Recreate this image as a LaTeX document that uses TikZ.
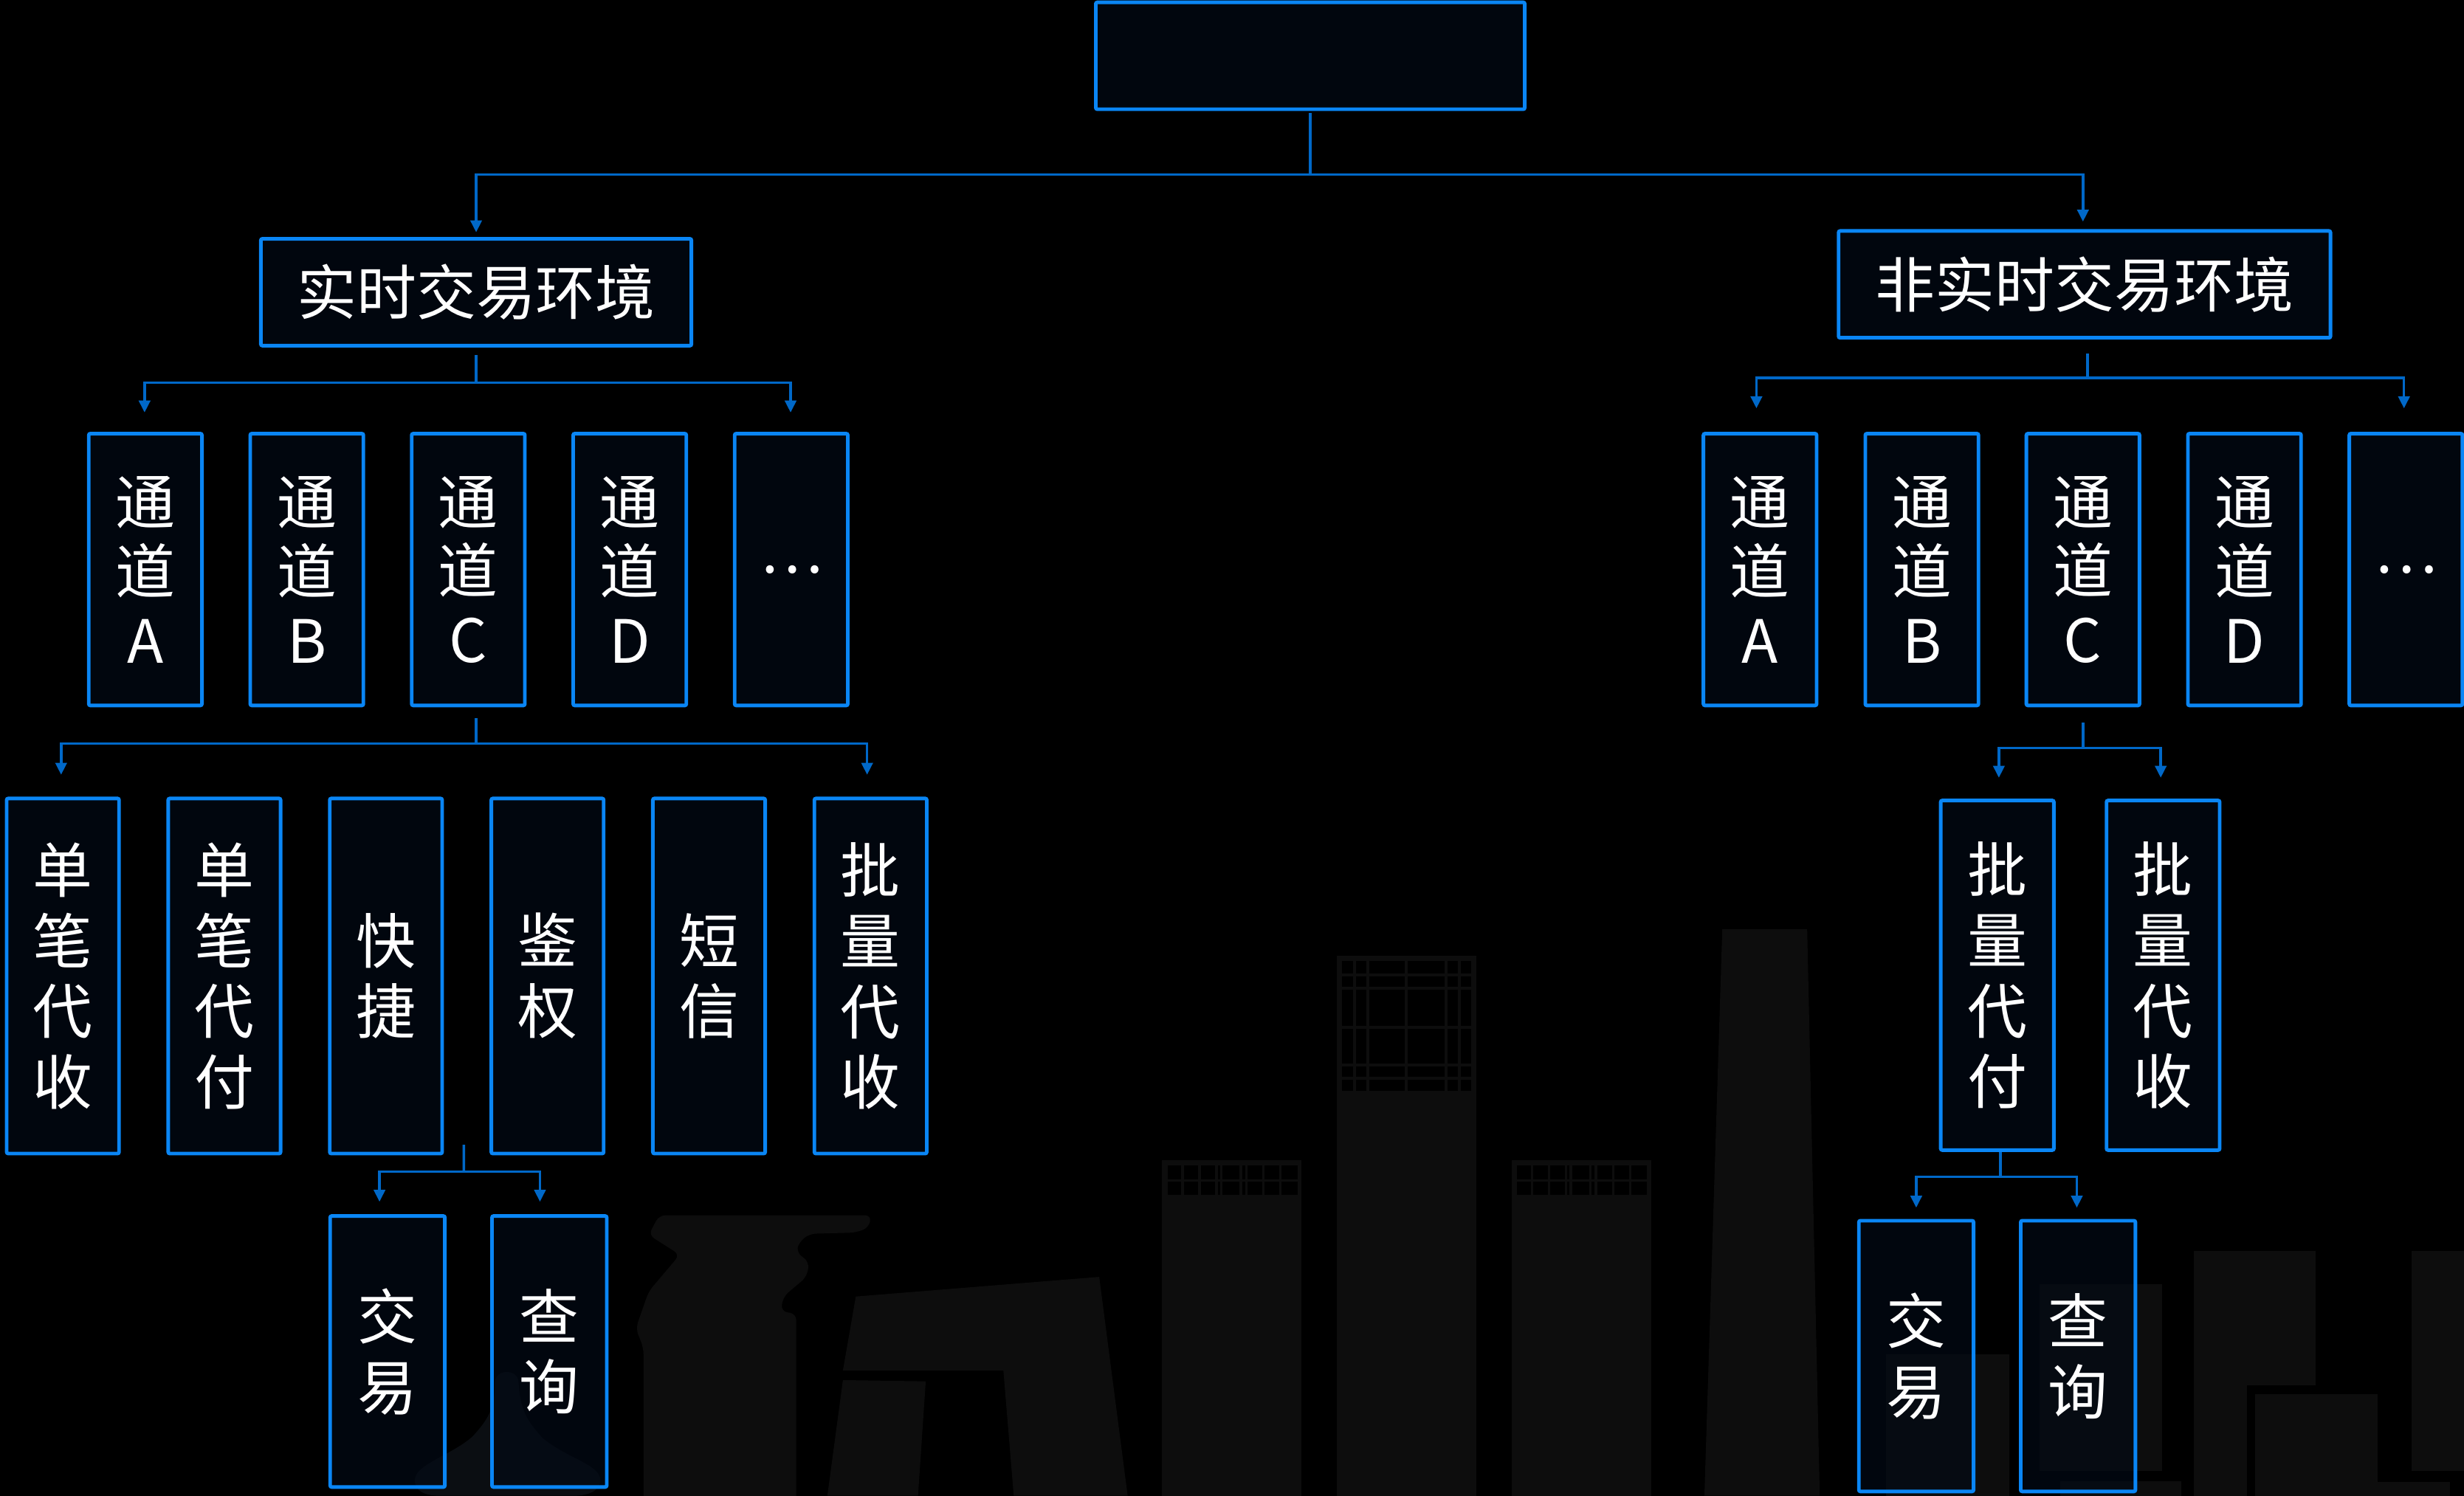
\documentclass[tikz,border=0pt]{standalone}
\usepackage{fontspec}
\newfontfamily\cjk{Noto Sans CJK SC}
\usetikzlibrary{arrows.meta}
\definecolor{boxblue}{RGB}{10,134,245}
\definecolor{linkblue}{RGB}{0,104,200}
\definecolor{boxfill}{RGB}{3,10,22}
\definecolor{skyline}{RGB}{13,13,13}
\definecolor{bellgray}{RGB}{11,14,18}

\begin{document}
\begin{tikzpicture}[x=1pt,y=-1pt,
  nodebox/.style={draw=boxblue,line width=2.3pt,fill=boxfill,fill opacity=0.65,
    text opacity=1,rounded corners=1pt,inner sep=0pt,text=white,align=center,
    font=\cjk\fontsize{38}{45}\selectfont},
  chan/.style={nodebox,minimum width=72pt,minimum height=173pt,
    font=\cjk\fontsize{38}{44}\selectfont},
  tallL/.style={nodebox,minimum width=71.5pt,minimum height=226pt},
  tallR/.style={nodebox,minimum width=72pt,minimum height=222.5pt},
  shortbox/.style={nodebox,minimum width=73pt,minimum height=172.5pt},
  conn/.style={draw=linkblue,line width=1.6pt},
  arr/.style={-{Triangle[length=7.6pt,width=7.2pt]}},
  mullion/.style={draw=skyline,line width=1.9pt}]

\useasboundingbox (0,0) rectangle (1568,952);
\fill[black] (0,0) rectangle (1568,952);

% ---------- skyline in the background ----------
% bell-shaped tower base
\fill[bellgray] (315,880) .. controls (315,871) and (330,871) .. (330,880)
  .. controls (331,898) and (336,905) .. (345,915)
  .. controls (360,928) and (382,932) .. (382,942)
  .. controls (382,950) and (372,952) .. (365,952) -- (280,952)
  .. controls (272,952) and (264,950) .. (264,942)
  .. controls (264,932) and (288,926) .. (301,914)
  .. controls (309,905) and (315,898) .. (315,880) -- cycle;

% bent headquarters building, left part
\fill[skyline,rounded corners=4pt] (419.4,773.5) -- (554.5,773.5) -- (552.9,781.3)
  -- (544.6,784.5) -- (515,785.3) -- (508.4,790.7) -- (506.7,797) -- (515,803.3)
  -- (513.3,812.7) -- (498.5,825.2) -- (496.9,834.6) -- (506.7,836.2)
  -- (506.7,960) -- (409.5,960) -- (409.5,858) -- (404.6,845.5) -- (412.8,822)
  -- (432.6,798.6) -- (412.8,786) -- cycle;
% bent headquarters building, right part
\fill[skyline] (544.6,825.2) -- (699.5,812.7) -- (717.6,952) -- (645.1,952)
  -- (638.5,872.2) -- (536.4,872.2) -- cycle;
\fill[skyline] (536.4,878.4) -- (589.1,879.2) -- (584.2,952) -- (526.5,952) -- cycle;

% three towers with window grids
\fill[skyline] (739.4,738.2) rectangle (828,952);
\fill[skyline] (850.7,608.3) rectangle (939.5,952);
\fill[skyline] (962,738.2) rectangle (1050.6,952);

\fill[black] (854,611.6) rectangle (936,694.5);
\foreach \gx in {862,870.3,895,920,928.6} \draw[mullion] (\gx,611.6) -- (\gx,694.5);
\foreach \gy in {620.3,629,654,677.8,686.3} \draw[mullion] (854,\gy) -- (936,\gy);

\foreach \dx in {0,222.6} {
  \begin{scope}[xshift=\dx pt]
    \fill[black] (742.9,741.8) rectangle (825.6,760.5);
    \foreach \gx in {752.5,763.3,774.1,777,789.6,793,804,814.8}
      \draw[mullion,line width=1.5pt] (\gx,741.8) -- (\gx,760.5);
    \draw[mullion,line width=1.5pt] (742.9,751.2) -- (825.6,751.2);
  \end{scope}
}

% tapered tower and low blocks on the right
\fill[skyline] (1096,591.4) -- (1150,591.4) -- (1158,952) -- (1084.6,952) -- cycle;
\fill[skyline] (1200,862) rectangle (1278.7,952);
\fill[skyline] (1298,817.4) rectangle (1375.7,936);
\fill[skyline] (1311,942.6) rectangle (1388,952);
\fill[skyline] (1396,796) rectangle (1473.6,881.7);
\fill[skyline] (1396,881.7) rectangle (1430,952);
\fill[skyline] (1435,887.4) rectangle (1513,952);
\fill[skyline] (1534.5,796) rectangle (1568,936);
\fill[skyline] (1483,943) rectangle (1559,952);

% ---------- boxes ----------
\node[nodebox,minimum width=273pt,minimum height=68pt] (top) at (833.8,35.5) {};
\node[nodebox,minimum width=274pt,minimum height=68pt] (envL) at (303,186) {实时交易环境};
\node[nodebox,minimum width=313pt,minimum height=68pt] (envR) at (1326.5,181) {非实时交易环境};

% channels, real-time side
\node[chan] (lA) at (92.5,362.5) {通\\道\\A};
\node[chan] (lB) at (195.25,362.5) {通\\道\\B};
\node[chan] (lC) at (298,362.5) {通\\道\\C};
\node[chan] (lD) at (400.75,362.5) {通\\道\\D};
\node[chan] (lE) at (503.5,362.5) {…};

% channels, non-real-time side
\node[chan] (rA) at (1120,362.5) {通\\道\\A};
\node[chan] (rB) at (1223,362.5) {通\\道\\B};
\node[chan] (rC) at (1325.5,362.5) {通\\道\\C};
\node[chan] (rD) at (1428.3,362.5) {通\\道\\D};
\node[chan] (rE) at (1531,362.5) {…};

% services under channel C, real-time side
\node[tallL] (s1) at (40,621.2) {单\\笔\\代\\收};
\node[tallL] (s2) at (142.8,621.2) {单\\笔\\代\\付};
\node[tallL] (s3) at (245.6,621.2) {快\\捷};
\node[tallL] (s4) at (348.4,621.2) {鉴\\权};
\node[tallL] (s5) at (451.2,621.2) {短\\信};
\node[tallL] (s6) at (554,621.2) {批\\量\\代\\收};

% services under channel C, non-real-time side
\node[tallR] (t1) at (1271,620.75) {批\\量\\代\\付};
\node[tallR] (t2) at (1376.5,620.75) {批\\量\\代\\收};

% operations
\node[shortbox] (q1) at (246.6,860.2) {交\\易};
\node[shortbox] (q2) at (349.6,860.2) {查\\询};
\node[shortbox,minimum height=172.3pt] (u1) at (1219.4,863.1) {交\\易};
\node[shortbox,minimum height=172.3pt] (u2) at (1322.4,863.1) {查\\询};

% ---------- connectors ----------
\coordinate (hubT) at (833.8,111.2);
\draw[conn] ([yshift=-1.4pt]top.south) -- (hubT);
\draw[conn,arr] (hubT) -| ([yshift=3pt]envL.north);
\draw[conn,arr] (hubT) -| ([xshift=-1pt,yshift=4.8pt]envR.north);

\coordinate (hubL) at (303,243.6);
\draw[conn] ([yshift=-5pt]envL.south) -- (hubL);
\draw[conn,arr] (hubL) -| ([xshift=-0.5pt,yshift=12.3pt]lA.north);
\draw[conn,arr] (hubL) -| ([xshift=-0.4pt,yshift=12.3pt]lE.north);

\coordinate (hubR) at (1328.5,240.5);
\draw[conn] ([xshift=2pt,yshift=-8.85pt]envR.south) -- (hubR);
\draw[conn,arr] (hubR) -| ([xshift=-2.3pt,yshift=14.95pt]rA.north);
\draw[conn,arr] (hubR) -| ([xshift=-1.2pt,yshift=14.95pt]rE.north);

\coordinate (hubLC) at (303,473.4);
\draw[conn] ([xshift=5pt,yshift=-6.85pt]lC.south) -- (hubLC);
\draw[conn,arr] (hubLC) -| ([xshift=-1.1pt,yshift=13.95pt]s1.north);
\draw[conn,arr] (hubLC) -| ([xshift=-2.2pt,yshift=13.95pt]s6.north);

\coordinate (hubQ) at (295.2,745.6);
\draw[conn] ([xshift=49.6pt,yshift=6.75pt]s3.south) -- (hubQ);
\draw[conn,arr] (hubQ) -| ([xshift=-5.1pt,yshift=7.95pt]q1.north);
\draw[conn,arr] (hubQ) -| ([xshift=-6pt,yshift=7.95pt]q2.north);

\coordinate (hubRC) at (1325.5,476);
\draw[conn] ([yshift=-9.85pt]rC.south) -- (hubRC);
\draw[conn,arr] (hubRC) -| ([xshift=1pt,yshift=13.35pt]t1.north);
\draw[conn,arr] (hubRC) -| ([xshift=-1.5pt,yshift=13.35pt]t2.north);

\coordinate (hubP) at (1273,749);
\draw[conn] ([xshift=2pt]t1.south) -- (hubP);
\draw[conn,arr] (hubP) -| ([yshift=7.15pt]u1.north);
\draw[conn,arr] (hubP) -| ([xshift=-0.8pt,yshift=7.15pt]u2.north);

\end{tikzpicture}
\end{document}
